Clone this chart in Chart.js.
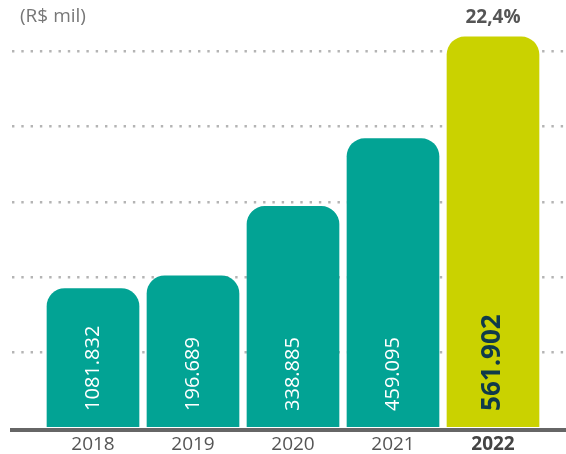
<!DOCTYPE html>
<html>
<head>
<meta charset="utf-8">
<script src="https://cdn.jsdelivr.net/npm/chart.js@4"></script>
<style>
  html, body { margin: 0; padding: 0; background: #fff; }
  #wrap { width: 566px; height: 454px; position: relative; }
</style>
</head>
<body>
<div id="wrap"><canvas id="myChart"></canvas></div>
<script>
// data (bar heights in gridline units, one unit per dotted line)
const years = ["2018", "2019", "2020", "2021", "2022"];
const barHeights = [1.85, 2.02, 2.94, 3.84, 5.19];
const valueLabels = ["1081.832", "196.689", "338.885", "459.095", "561.902"];
const growthLabel = "22,4%";
const unitLabel = "(R$ mil)";

const FONT = "'Open Sans', 'Noto Sans', sans-serif";
const TEAL = "#02A394";
const LIME = "#CAD200";

// labels inside bars, growth label and unit text
const labelPlugin = {
  id: "labels",
  afterDatasetsDraw(chart) {
    const ctx = chart.ctx;
    const meta = chart.getDatasetMeta(0);
    const base = chart.scales.y.getPixelForValue(0);
    ctx.save();
    meta.data.forEach((bar, i) => {
      const last = i === years.length - 1;
      ctx.save();
      ctx.translate(bar.x, base - 17);
      ctx.rotate(-Math.PI / 2);
      ctx.textAlign = "left";
      ctx.textBaseline = "middle";
      ctx.fillStyle = last ? "#0F3A4A" : "#ffffff";
      ctx.font = (last ? "bold 26px " : "20px ") + FONT;
      ctx.fillText(valueLabels[i], 0, 0);
      ctx.restore();
    });
    const lastBar = meta.data[meta.data.length - 1];
    ctx.fillStyle = "#555";
    ctx.font = "bold 19px " + FONT;
    ctx.textAlign = "center";
    ctx.textBaseline = "middle";
    ctx.fillText(growthLabel, lastBar.x, lastBar.y - 19);

    ctx.fillStyle = "#777";
    ctx.font = "19px " + FONT;
    ctx.textAlign = "left";
    ctx.fillText(unitLabel, 20, 17);
    ctx.restore();
  },
};

const data = {
  datasets: [
    {
      data: years.map((y, i) => ({ x: i, y: barHeights[i] })),
      backgroundColor: years.map((y, i) => (i === years.length - 1 ? LIME : TEAL)),
      barThickness: 92,
      borderRadius: { topLeft: 18, topRight: 18, bottomLeft: 0, bottomRight: 0 },
      borderSkipped: "start",
    },
  ],
};

const config = {
  type: "bar",
  data: data,
  options: {
    responsive: false,
    animation: false,
    layout: { padding: { left: 12, right: 0, top: 6, bottom: 0 } },
    plugins: {
      legend: { display: false },
      tooltip: { enabled: false },
    },
    scales: {
      x: {
        type: "linear",
        offset: false,
        min: -0.81,
        max: 4.73,
        afterFit: (s) => { s.height = 24; },
        grid: { display: false, drawTicks: false, offset: false },
        border: { display: true, color: "#666", width: 4 },
        ticks: {
          stepSize: 1,
          includeBounds: false,
          padding: 3,
          color: (c) => (c.tick && c.tick.value === 4 ? "#444" : "#555"),
          font: (c) => ({
            family: FONT,
            size: 19,
            weight: c.tick && c.tick.value === 4 ? "bold" : "normal",
          }),
          callback: (v) => (Number.isInteger(v) && years[v] ? years[v] : ""),
        },
      },
      y: {
        min: -0.027,
        max: 5.6,
        afterFit: (s) => { s.width = 0; },
        grid: {
          drawTicks: false,
          lineWidth: 2.4,
          color: (c) => (c.tick && c.tick.value >= 1 && Number.isInteger(c.tick.value) ? "#b4b4b4" : "rgba(0,0,0,0)"),
        },
        border: { display: false, dash: [2.4, 6.9] },
        ticks: { display: false, stepSize: 1, includeBounds: false },
      },
    },
  },
  plugins: [labelPlugin],
};

var canvas = document.getElementById("myChart");
canvas.width = 566;
canvas.height = 454;
var myChart = new Chart(canvas.getContext("2d"), config);
</script>
</body>
</html>
